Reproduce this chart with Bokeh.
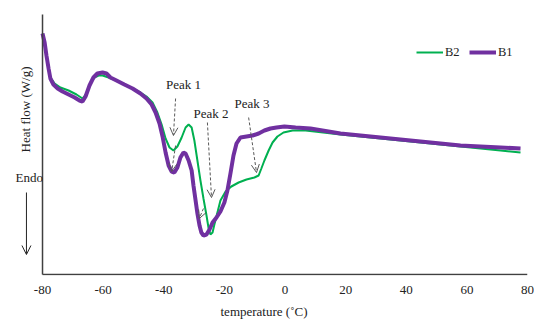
from bokeh.plotting import figure
from bokeh.models import Range1d, FixedTicker, Label, Arrow, OpenHead, Legend, LegendItem
from bokeh.embed import file_html
from bokeh.resources import INLINE
import math

# temperature (°C) and heat flow (arbitrary W/g units)
b1_temp = [-80.0, -79.3, -78.7, -78.0, -77.4, -76.4, -75.0, -73.4, -71.4, -69.4, -67.8, -66.8,
           -65.8, -64.5, -63.2, -61.9, -60.2, -58.9, -57.6, -55.6, -53.0, -50.3, -47.7, -45.7,
           -44.0, -42.7, -41.4, -40.4, -39.4, -38.4, -37.4, -36.5, -35.5, -34.5, -33.5, -32.8,
           -31.8, -30.8, -30.2, -29.5, -28.9, -28.2, -27.6, -26.9, -25.9, -24.9, -23.9, -22.6,
           -21.3, -20.0, -19.0, -18.0, -17.0, -16.0, -14.7, -12.7, -10.7, -8.7, -6.8, -4.8,
           -2.8, -0.2, 3.5, 8.4, 18.3, 31.5, 44.7, 57.9, 71.1, 77.7]
b1_flow = [2.41, 2.32, 2.19, 2.06, 1.96, 1.90, 1.86, 1.83, 1.80, 1.77, 1.74, 1.73,
           1.78, 1.89, 1.97, 2.01, 2.02, 2.01, 1.97, 1.94, 1.90, 1.86, 1.81, 1.76,
           1.70, 1.62, 1.51, 1.38, 1.22, 1.09, 1.03, 1.02, 1.07, 1.17, 1.22, 1.21,
           1.14, 1.04, 0.89, 0.74, 0.61, 0.49, 0.42, 0.39, 0.40, 0.45, 0.52, 0.57,
           0.63, 0.72, 0.84, 1.01, 1.19, 1.31, 1.37, 1.38, 1.39, 1.41, 1.44, 1.46,
           1.47, 1.48, 1.47, 1.46, 1.41, 1.37, 1.33, 1.29, 1.27, 1.26]

b2_temp = [-80.0, -78.7, -77.4, -76.0, -74.1, -71.4, -68.8, -66.8, -65.5, -64.2, -62.9, -61.5,
           -60.2, -58.2, -55.6, -53.0, -50.3, -47.7, -45.7, -43.7, -42.1, -40.7, -39.4, -38.1,
           -36.8, -35.5, -34.1, -32.8, -31.8, -30.8, -29.9, -28.9, -27.9, -26.9, -25.9, -25.2,
           -24.6, -23.9, -23.3, -22.3, -21.3, -19.6, -17.7, -15.3, -12.7, -10.1, -8.7, -7.8,
           -6.8, -5.4, -4.1, -2.5, -0.5, 2.5, 6.8, 18.3, 31.5, 44.7, 57.9, 71.1, 77.7]
b2_flow = [2.41, 2.19, 1.97, 1.91, 1.87, 1.84, 1.80, 1.76, 1.81, 1.91, 1.97, 1.99,
           1.99, 1.97, 1.94, 1.90, 1.86, 1.82, 1.78, 1.72, 1.62, 1.50, 1.36, 1.27,
           1.24, 1.28, 1.37, 1.47, 1.50, 1.47, 1.34, 1.14, 0.94, 0.76, 0.59, 0.46,
           0.40, 0.42, 0.50, 0.62, 0.74, 0.83, 0.88, 0.92, 0.95, 0.97, 0.99, 1.06,
           1.14, 1.24, 1.32, 1.38, 1.42, 1.44, 1.44, 1.40, 1.36, 1.32, 1.28, 1.24, 1.22]

x_ticks = [-80, -60, -40, -20, 0, 20, 40, 60, 80]

FONT = "Liberation Serif"
FS = "13px"
GREEN = "#00B050"
PURPLE = "#7030A0"
GREY = "#595959"
AX = "#404040"
TXT = "#222222"

X0, X1 = x_ticks[0], x_ticks[-1]
Y0 = 0.0

p = figure(width=534, height=322, output_backend="svg", toolbar_location=None,
           x_range=Range1d(-93.86, 80), y_range=Range1d(-0.01, 2.60),
           min_border_left=0, min_border_right=7, min_border_top=14, min_border_bottom=47)
p.outline_line_color = None
p.xgrid.visible = False
p.ygrid.visible = False
p.yaxis.visible = False

ax = p.xaxis[0]
ax.axis_line_color = None
ax.major_tick_out = 0
ax.major_tick_in = 0
ax.minor_tick_out = 0
ax.minor_tick_in = 0
ax.ticker = FixedTicker(ticks=x_ticks)
ax.major_label_overrides = {t: str(t) for t in x_ticks}
ax.major_label_text_font = FONT
ax.major_label_text_font_size = FS
ax.major_label_text_color = TXT
ax.major_label_standoff = 10
ax.axis_label = "temperature (˚C)"
ax.axis_label_standoff = 7
ax.axis_label_text_font = FONT
ax.axis_label_text_font_size = FS
ax.axis_label_text_font_style = "normal"
ax.axis_label_text_color = TXT

# axis lines
p.add_layout(Arrow(start=None, end=None, x_start=X0, y_start=Y0, x_end=X1, y_end=Y0,
                   line_color=AX, line_width=1.5))
p.add_layout(Arrow(start=None, end=None, x_start=X0, y_start=Y0, x_end=X0, y_end=2.61,
                   line_color=AX, line_width=1.5))

r2 = p.line(b2_temp, b2_flow, line_color=GREEN, line_width=2)
r1 = p.line(b1_temp, b1_flow, line_color=PURPLE, line_width=4)

legend = Legend(items=[LegendItem(label="B2", renderers=[r2]), LegendItem(label="B1", renderers=[r1])],
                orientation="horizontal", location=(416, 215), padding=0, spacing=4,
                glyph_width=27, glyph_height=16, label_standoff=2, label_height=16,
                label_text_font=FONT, label_text_font_size="12.5px", label_text_color=TXT,
                border_line_color=None, background_fill_alpha=0, margin=0)
p.add_layout(legend)

def txt(x, y, s, angle=0.0):
    p.add_layout(Label(x=x, y=y, text=s, text_font=FONT, text_font_size=FS,
                       text_color=TXT, text_align="center", text_baseline="middle",
                       angle=angle))

def darrow(x0, y0, x1, y1):
    p.add_layout(Arrow(end=OpenHead(size=8, line_color=GREY, line_width=1),
                       x_start=x0, y_start=y0, x_end=x1, y_end=y1,
                       line_color=GREY, line_width=1, line_dash="3 2"))

txt(-33.5, 1.90, "Peak 1")
darrow(-36.1, 1.76, -36.8, 1.39)
darrow(-36.1, 1.29, -37.4, 1.03)
txt(-24.4, 1.61, "Peak 2")
darrow(-25.6, 1.52, -24.25, 0.77)
darrow(-26.9, 0.66, -28.3, 0.56)
txt(-10.9, 1.71, "Peak 3")
darrow(-12.0, 1.57, -9.4, 1.02)

txt(-84.4, 0.97, "Endo")
txt(-85.6, 1.65, "Heat flow (W/g)", angle=math.pi / 2)
p.add_layout(Arrow(end=OpenHead(size=9, line_color=TXT, line_width=1),
                   x_start=-85.3, y_start=0.82, x_end=-85.3, y_end=0.20,
                   line_color=TXT, line_width=1))

open("out.html", "w").write(file_html(p, INLINE))
